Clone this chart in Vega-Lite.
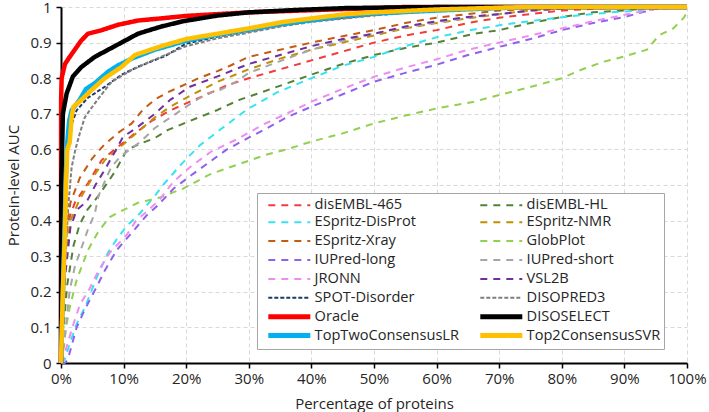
{
"$schema": "https://vega.github.io/schema/vega-lite/v6.json",
"width": 626, "height": 356,
"autosize": {"type": "none"},
"padding": {"left": 61, "top": 7, "right": 22, "bottom": 49},
"config": {
  "view": {"stroke": null},
  "font": "Open Sans",
  "axis": {"domainColor": "#000000", "domainWidth": 2, "tickColor": "#000000", "tickWidth": 1.5, "gridColor": "#d9d9d9", "gridDash": [4, 3], "gridWidth": 1, "labelColor": "#262626", "labelFontSize": 15, "titleColor": "#262626", "titleFontSize": 15, "titleFontWeight": "normal"},
  "legend": {"orient": "none", "legendX": 196, "legendY": 186, "columns": 2, "gridAlign": "all", "symbolType": "M-3,0H3", "symbolSize": 196, "symbolOffset": 22, "labelFontSize": 14.6, "labelColor": "#262626", "labelOffset": 18, "labelLimit": 300, "strokeColor": "#a6a6a6", "fillColor": "#ffffff", "padding": 3, "rowPadding": -2.1, "columnPadding": 11}
},
"data": {"values": [
{"s":"disEMBL-465","x":0,"y":0},{"s":"disEMBL-465","x":0.3,"y":0.15},{"s":"disEMBL-465","x":0.64,"y":0.34},{"s":"disEMBL-465","x":1.2,"y":0.4},{"s":"disEMBL-465","x":2.2,"y":0.45},{"s":"disEMBL-465","x":4.3,"y":0.505},{"s":"disEMBL-465","x":6.5,"y":0.57},{"s":"disEMBL-465","x":9.1,"y":0.607},{"s":"disEMBL-465","x":11.8,"y":0.645},{"s":"disEMBL-465","x":14.5,"y":0.68},{"s":"disEMBL-465","x":17.5,"y":0.71},{"s":"disEMBL-465","x":20.6,"y":0.734},{"s":"disEMBL-465","x":22.5,"y":0.748},{"s":"disEMBL-465","x":26.5,"y":0.78},{"s":"disEMBL-465","x":30,"y":0.8},{"s":"disEMBL-465","x":35,"y":0.825},{"s":"disEMBL-465","x":40,"y":0.85},{"s":"disEMBL-465","x":45,"y":0.875},{"s":"disEMBL-465","x":50,"y":0.9},{"s":"disEMBL-465","x":55,"y":0.92},{"s":"disEMBL-465","x":60,"y":0.935},{"s":"disEMBL-465","x":65,"y":0.955},{"s":"disEMBL-465","x":70,"y":0.97},{"s":"disEMBL-465","x":75,"y":0.98},{"s":"disEMBL-465","x":80,"y":0.99},{"s":"disEMBL-465","x":85,"y":0.995},{"s":"disEMBL-465","x":90,"y":1},{"s":"disEMBL-465","x":100,"y":1},
{"s":"disEMBL-HL","x":0,"y":0},{"s":"disEMBL-HL","x":0.5,"y":0.12},{"s":"disEMBL-HL","x":1,"y":0.22},{"s":"disEMBL-HL","x":2,"y":0.33},{"s":"disEMBL-HL","x":3,"y":0.39},{"s":"disEMBL-HL","x":4.2,"y":0.43},{"s":"disEMBL-HL","x":6,"y":0.47},{"s":"disEMBL-HL","x":8.6,"y":0.537},{"s":"disEMBL-HL","x":10.5,"y":0.598},{"s":"disEMBL-HL","x":12.5,"y":0.615},{"s":"disEMBL-HL","x":15,"y":0.632},{"s":"disEMBL-HL","x":17,"y":0.654},{"s":"disEMBL-HL","x":20.6,"y":0.68},{"s":"disEMBL-HL","x":24.9,"y":0.71},{"s":"disEMBL-HL","x":28.6,"y":0.74},{"s":"disEMBL-HL","x":32.3,"y":0.762},{"s":"disEMBL-HL","x":40,"y":0.81},{"s":"disEMBL-HL","x":45,"y":0.84},{"s":"disEMBL-HL","x":50,"y":0.865},{"s":"disEMBL-HL","x":55,"y":0.885},{"s":"disEMBL-HL","x":60,"y":0.9},{"s":"disEMBL-HL","x":66,"y":0.925},{"s":"disEMBL-HL","x":70,"y":0.935},{"s":"disEMBL-HL","x":75,"y":0.955},{"s":"disEMBL-HL","x":80,"y":0.972},{"s":"disEMBL-HL","x":85,"y":0.985},{"s":"disEMBL-HL","x":90,"y":0.99},{"s":"disEMBL-HL","x":95,"y":1},{"s":"disEMBL-HL","x":100,"y":1},
{"s":"ESpritz-DisProt","x":0,"y":0},{"s":"ESpritz-DisProt","x":0.6,"y":0.01},{"s":"ESpritz-DisProt","x":1.5,"y":0.06},{"s":"ESpritz-DisProt","x":2.5,"y":0.11},{"s":"ESpritz-DisProt","x":3.8,"y":0.155},{"s":"ESpritz-DisProt","x":5.7,"y":0.24},{"s":"ESpritz-DisProt","x":7.5,"y":0.31},{"s":"ESpritz-DisProt","x":9,"y":0.35},{"s":"ESpritz-DisProt","x":10.5,"y":0.385},{"s":"ESpritz-DisProt","x":12.6,"y":0.42},{"s":"ESpritz-DisProt","x":15,"y":0.47},{"s":"ESpritz-DisProt","x":16.3,"y":0.5},{"s":"ESpritz-DisProt","x":19.3,"y":0.56},{"s":"ESpritz-DisProt","x":22.2,"y":0.612},{"s":"ESpritz-DisProt","x":25.4,"y":0.655},{"s":"ESpritz-DisProt","x":29.7,"y":0.712},{"s":"ESpritz-DisProt","x":34.5,"y":0.76},{"s":"ESpritz-DisProt","x":40,"y":0.8},{"s":"ESpritz-DisProt","x":45,"y":0.835},{"s":"ESpritz-DisProt","x":50,"y":0.86},{"s":"ESpritz-DisProt","x":55,"y":0.89},{"s":"ESpritz-DisProt","x":60,"y":0.915},{"s":"ESpritz-DisProt","x":66,"y":0.937},{"s":"ESpritz-DisProt","x":70.5,"y":0.95},{"s":"ESpritz-DisProt","x":77,"y":0.965},{"s":"ESpritz-DisProt","x":83,"y":0.977},{"s":"ESpritz-DisProt","x":88,"y":0.985},{"s":"ESpritz-DisProt","x":92,"y":0.99},{"s":"ESpritz-DisProt","x":96,"y":1},{"s":"ESpritz-DisProt","x":100,"y":1},
{"s":"ESpritz-NMR","x":0,"y":0},{"s":"ESpritz-NMR","x":0.3,"y":0.15},{"s":"ESpritz-NMR","x":0.7,"y":0.3},{"s":"ESpritz-NMR","x":1.5,"y":0.4},{"s":"ESpritz-NMR","x":3,"y":0.46},{"s":"ESpritz-NMR","x":5,"y":0.52},{"s":"ESpritz-NMR","x":7,"y":0.57},{"s":"ESpritz-NMR","x":9,"y":0.6},{"s":"ESpritz-NMR","x":11,"y":0.63},{"s":"ESpritz-NMR","x":13,"y":0.66},{"s":"ESpritz-NMR","x":15,"y":0.69},{"s":"ESpritz-NMR","x":17.5,"y":0.72},{"s":"ESpritz-NMR","x":20,"y":0.745},{"s":"ESpritz-NMR","x":25,"y":0.79},{"s":"ESpritz-NMR","x":30,"y":0.825},{"s":"ESpritz-NMR","x":35,"y":0.855},{"s":"ESpritz-NMR","x":40,"y":0.88},{"s":"ESpritz-NMR","x":45,"y":0.9},{"s":"ESpritz-NMR","x":50,"y":0.92},{"s":"ESpritz-NMR","x":55,"y":0.94},{"s":"ESpritz-NMR","x":60,"y":0.955},{"s":"ESpritz-NMR","x":65,"y":0.968},{"s":"ESpritz-NMR","x":70,"y":0.98},{"s":"ESpritz-NMR","x":75,"y":0.99},{"s":"ESpritz-NMR","x":80,"y":0.997},{"s":"ESpritz-NMR","x":85,"y":1},{"s":"ESpritz-NMR","x":100,"y":1},
{"s":"ESpritz-Xray","x":0,"y":0},{"s":"ESpritz-Xray","x":0.3,"y":0.2},{"s":"ESpritz-Xray","x":0.7,"y":0.35},{"s":"ESpritz-Xray","x":1.5,"y":0.45},{"s":"ESpritz-Xray","x":3,"y":0.52},{"s":"ESpritz-Xray","x":5,"y":0.575},{"s":"ESpritz-Xray","x":7,"y":0.615},{"s":"ESpritz-Xray","x":9.4,"y":0.65},{"s":"ESpritz-Xray","x":11.3,"y":0.673},{"s":"ESpritz-Xray","x":13,"y":0.71},{"s":"ESpritz-Xray","x":15,"y":0.74},{"s":"ESpritz-Xray","x":17,"y":0.76},{"s":"ESpritz-Xray","x":19,"y":0.776},{"s":"ESpritz-Xray","x":22,"y":0.8},{"s":"ESpritz-Xray","x":25,"y":0.82},{"s":"ESpritz-Xray","x":27,"y":0.835},{"s":"ESpritz-Xray","x":30,"y":0.86},{"s":"ESpritz-Xray","x":35,"y":0.88},{"s":"ESpritz-Xray","x":40,"y":0.9},{"s":"ESpritz-Xray","x":45,"y":0.918},{"s":"ESpritz-Xray","x":50,"y":0.935},{"s":"ESpritz-Xray","x":55,"y":0.955},{"s":"ESpritz-Xray","x":60,"y":0.97},{"s":"ESpritz-Xray","x":65,"y":0.98},{"s":"ESpritz-Xray","x":70,"y":0.99},{"s":"ESpritz-Xray","x":75,"y":0.995},{"s":"ESpritz-Xray","x":80,"y":1},{"s":"ESpritz-Xray","x":100,"y":1},
{"s":"GlobPlot","x":0,"y":0},{"s":"GlobPlot","x":0.4,"y":0.05},{"s":"GlobPlot","x":0.8,"y":0.1},{"s":"GlobPlot","x":1.4,"y":0.157},{"s":"GlobPlot","x":2.5,"y":0.233},{"s":"GlobPlot","x":4.3,"y":0.317},{"s":"GlobPlot","x":6,"y":0.37},{"s":"GlobPlot","x":7.8,"y":0.41},{"s":"GlobPlot","x":10,"y":0.43},{"s":"GlobPlot","x":12.3,"y":0.45},{"s":"GlobPlot","x":15.8,"y":0.465},{"s":"GlobPlot","x":19.5,"y":0.49},{"s":"GlobPlot","x":23.8,"y":0.53},{"s":"GlobPlot","x":28,"y":0.556},{"s":"GlobPlot","x":32.6,"y":0.584},{"s":"GlobPlot","x":36,"y":0.6},{"s":"GlobPlot","x":40,"y":0.622},{"s":"GlobPlot","x":45,"y":0.645},{"s":"GlobPlot","x":50,"y":0.673},{"s":"GlobPlot","x":55,"y":0.695},{"s":"GlobPlot","x":60,"y":0.715},{"s":"GlobPlot","x":65.8,"y":0.733},{"s":"GlobPlot","x":70,"y":0.753},{"s":"GlobPlot","x":76,"y":0.78},{"s":"GlobPlot","x":80,"y":0.8},{"s":"GlobPlot","x":83,"y":0.823},{"s":"GlobPlot","x":86.6,"y":0.846},{"s":"GlobPlot","x":89.8,"y":0.86},{"s":"GlobPlot","x":93.6,"y":0.88},{"s":"GlobPlot","x":95.5,"y":0.92},{"s":"GlobPlot","x":97.8,"y":0.94},{"s":"GlobPlot","x":99.5,"y":0.97},{"s":"GlobPlot","x":100,"y":0.985},
{"s":"IUPred-long","x":0,"y":0},{"s":"IUPred-long","x":0.6,"y":0},{"s":"IUPred-long","x":1.1,"y":0.01},{"s":"IUPred-long","x":2.5,"y":0.1},{"s":"IUPred-long","x":3.8,"y":0.15},{"s":"IUPred-long","x":5.7,"y":0.214},{"s":"IUPred-long","x":7,"y":0.26},{"s":"IUPred-long","x":8.9,"y":0.317},{"s":"IUPred-long","x":11.5,"y":0.37},{"s":"IUPred-long","x":13.7,"y":0.415},{"s":"IUPred-long","x":15.3,"y":0.44},{"s":"IUPred-long","x":18,"y":0.49},{"s":"IUPred-long","x":21,"y":0.53},{"s":"IUPred-long","x":26.5,"y":0.6},{"s":"IUPred-long","x":30.2,"y":0.635},{"s":"IUPred-long","x":33,"y":0.66},{"s":"IUPred-long","x":36,"y":0.69},{"s":"IUPred-long","x":40,"y":0.72},{"s":"IUPred-long","x":45,"y":0.755},{"s":"IUPred-long","x":50,"y":0.79},{"s":"IUPred-long","x":55,"y":0.815},{"s":"IUPred-long","x":60,"y":0.838},{"s":"IUPred-long","x":65,"y":0.865},{"s":"IUPred-long","x":70,"y":0.888},{"s":"IUPred-long","x":75,"y":0.91},{"s":"IUPred-long","x":80,"y":0.935},{"s":"IUPred-long","x":85,"y":0.955},{"s":"IUPred-long","x":90,"y":0.972},{"s":"IUPred-long","x":95,"y":0.995},{"s":"IUPred-long","x":100,"y":1},
{"s":"IUPred-short","x":0,"y":0},{"s":"IUPred-short","x":0.5,"y":0.05},{"s":"IUPred-short","x":1,"y":0.14},{"s":"IUPred-short","x":1.4,"y":0.205},{"s":"IUPred-short","x":2.2,"y":0.27},{"s":"IUPred-short","x":3.2,"y":0.32},{"s":"IUPred-short","x":4.3,"y":0.375},{"s":"IUPred-short","x":5.4,"y":0.42},{"s":"IUPred-short","x":6,"y":0.47},{"s":"IUPred-short","x":7,"y":0.51},{"s":"IUPred-short","x":8,"y":0.55},{"s":"IUPred-short","x":9.5,"y":0.58},{"s":"IUPred-short","x":11,"y":0.6},{"s":"IUPred-short","x":12.6,"y":0.62},{"s":"IUPred-short","x":15,"y":0.66},{"s":"IUPred-short","x":17.5,"y":0.69},{"s":"IUPred-short","x":20,"y":0.72},{"s":"IUPred-short","x":23.3,"y":0.757},{"s":"IUPred-short","x":25.4,"y":0.767},{"s":"IUPred-short","x":28,"y":0.79},{"s":"IUPred-short","x":30,"y":0.815},{"s":"IUPred-short","x":35,"y":0.848},{"s":"IUPred-short","x":40,"y":0.88},{"s":"IUPred-short","x":45,"y":0.905},{"s":"IUPred-short","x":50,"y":0.925},{"s":"IUPred-short","x":55,"y":0.942},{"s":"IUPred-short","x":60,"y":0.957},{"s":"IUPred-short","x":65,"y":0.97},{"s":"IUPred-short","x":70,"y":0.98},{"s":"IUPred-short","x":75,"y":0.99},{"s":"IUPred-short","x":80,"y":0.997},{"s":"IUPred-short","x":85,"y":1},{"s":"IUPred-short","x":100,"y":1},
{"s":"JRONN","x":0,"y":0},{"s":"JRONN","x":0.5,"y":0.02},{"s":"JRONN","x":0.9,"y":0.046},{"s":"JRONN","x":2,"y":0.11},{"s":"JRONN","x":3,"y":0.163},{"s":"JRONN","x":4.6,"y":0.21},{"s":"JRONN","x":6,"y":0.26},{"s":"JRONN","x":7.8,"y":0.31},{"s":"JRONN","x":10.5,"y":0.36},{"s":"JRONN","x":12,"y":0.4},{"s":"JRONN","x":14,"y":0.43},{"s":"JRONN","x":15.8,"y":0.46},{"s":"JRONN","x":18,"y":0.51},{"s":"JRONN","x":20.6,"y":0.55},{"s":"JRONN","x":24,"y":0.594},{"s":"JRONN","x":28.3,"y":0.63},{"s":"JRONN","x":32.3,"y":0.67},{"s":"JRONN","x":36,"y":0.7},{"s":"JRONN","x":40,"y":0.734},{"s":"JRONN","x":45,"y":0.77},{"s":"JRONN","x":50,"y":0.804},{"s":"JRONN","x":55,"y":0.83},{"s":"JRONN","x":60,"y":0.853},{"s":"JRONN","x":65,"y":0.88},{"s":"JRONN","x":70,"y":0.9},{"s":"JRONN","x":75,"y":0.92},{"s":"JRONN","x":80,"y":0.94},{"s":"JRONN","x":85,"y":0.96},{"s":"JRONN","x":90,"y":0.978},{"s":"JRONN","x":95,"y":0.995},{"s":"JRONN","x":100,"y":1},
{"s":"VSL2B","x":0,"y":0},{"s":"VSL2B","x":0.3,"y":0.1},{"s":"VSL2B","x":0.7,"y":0.25},{"s":"VSL2B","x":1.5,"y":0.38},{"s":"VSL2B","x":2.5,"y":0.43},{"s":"VSL2B","x":4.1,"y":0.453},{"s":"VSL2B","x":5.5,"y":0.5},{"s":"VSL2B","x":6.8,"y":0.537},{"s":"VSL2B","x":8.5,"y":0.59},{"s":"VSL2B","x":9.9,"y":0.635},{"s":"VSL2B","x":12,"y":0.66},{"s":"VSL2B","x":15,"y":0.7},{"s":"VSL2B","x":17.5,"y":0.74},{"s":"VSL2B","x":20.6,"y":0.776},{"s":"VSL2B","x":25,"y":0.805},{"s":"VSL2B","x":30,"y":0.84},{"s":"VSL2B","x":35,"y":0.865},{"s":"VSL2B","x":40,"y":0.89},{"s":"VSL2B","x":45,"y":0.91},{"s":"VSL2B","x":50,"y":0.925},{"s":"VSL2B","x":55,"y":0.945},{"s":"VSL2B","x":60,"y":0.96},{"s":"VSL2B","x":65,"y":0.972},{"s":"VSL2B","x":70,"y":0.98},{"s":"VSL2B","x":75,"y":0.99},{"s":"VSL2B","x":80,"y":0.995},{"s":"VSL2B","x":85,"y":1},{"s":"VSL2B","x":100,"y":1},
{"s":"SPOT-Disorder","x":0,"y":0},{"s":"SPOT-Disorder","x":0.3,"y":0.2},{"s":"SPOT-Disorder","x":0.6,"y":0.4},{"s":"SPOT-Disorder","x":1,"y":0.58},{"s":"SPOT-Disorder","x":1.5,"y":0.66},{"s":"SPOT-Disorder","x":2.5,"y":0.71},{"s":"SPOT-Disorder","x":4.3,"y":0.745},{"s":"SPOT-Disorder","x":7,"y":0.776},{"s":"SPOT-Disorder","x":9.7,"y":0.81},{"s":"SPOT-Disorder","x":12.3,"y":0.832},{"s":"SPOT-Disorder","x":15,"y":0.851},{"s":"SPOT-Disorder","x":16.6,"y":0.862},{"s":"SPOT-Disorder","x":20,"y":0.897},{"s":"SPOT-Disorder","x":25,"y":0.917},{"s":"SPOT-Disorder","x":30,"y":0.932},{"s":"SPOT-Disorder","x":35,"y":0.948},{"s":"SPOT-Disorder","x":40,"y":0.96},{"s":"SPOT-Disorder","x":50,"y":0.978},{"s":"SPOT-Disorder","x":60,"y":0.99},{"s":"SPOT-Disorder","x":70,"y":0.997},{"s":"SPOT-Disorder","x":75,"y":1},{"s":"SPOT-Disorder","x":100,"y":1},
{"s":"DISOPRED3","x":0,"y":0},{"s":"DISOPRED3","x":0.3,"y":0.1},{"s":"DISOPRED3","x":0.7,"y":0.3},{"s":"DISOPRED3","x":1.2,"y":0.45},{"s":"DISOPRED3","x":1.7,"y":0.55},{"s":"DISOPRED3","x":2.3,"y":0.6},{"s":"DISOPRED3","x":3,"y":0.645},{"s":"DISOPRED3","x":3.8,"y":0.69},{"s":"DISOPRED3","x":4.6,"y":0.71},{"s":"DISOPRED3","x":6.2,"y":0.748},{"s":"DISOPRED3","x":8.1,"y":0.79},{"s":"DISOPRED3","x":11.3,"y":0.823},{"s":"DISOPRED3","x":14,"y":0.845},{"s":"DISOPRED3","x":16,"y":0.86},{"s":"DISOPRED3","x":20,"y":0.89},{"s":"DISOPRED3","x":25,"y":0.912},{"s":"DISOPRED3","x":30,"y":0.928},{"s":"DISOPRED3","x":35,"y":0.945},{"s":"DISOPRED3","x":40,"y":0.958},{"s":"DISOPRED3","x":50,"y":0.976},{"s":"DISOPRED3","x":60,"y":0.99},{"s":"DISOPRED3","x":70,"y":0.997},{"s":"DISOPRED3","x":75,"y":1},{"s":"DISOPRED3","x":100,"y":1},
{"s":"Oracle","x":0,"y":0},{"s":"Oracle","x":0.02,"y":0.74},{"s":"Oracle","x":0.1,"y":0.8},{"s":"Oracle","x":0.64,"y":0.84},{"s":"Oracle","x":1.2,"y":0.855},{"s":"Oracle","x":2.2,"y":0.88},{"s":"Oracle","x":3.2,"y":0.905},{"s":"Oracle","x":4.3,"y":0.925},{"s":"Oracle","x":6.5,"y":0.935},{"s":"Oracle","x":9.1,"y":0.95},{"s":"Oracle","x":12.3,"y":0.962},{"s":"Oracle","x":16,"y":0.968},{"s":"Oracle","x":20,"y":0.975},{"s":"Oracle","x":25,"y":0.98},{"s":"Oracle","x":30,"y":0.985},{"s":"Oracle","x":40,"y":0.991},{"s":"Oracle","x":50,"y":0.997},{"s":"Oracle","x":55,"y":1},{"s":"Oracle","x":100,"y":1},
{"s":"DISOSELECT","x":0,"y":0},{"s":"DISOSELECT","x":0.05,"y":0.5},{"s":"DISOSELECT","x":0.3,"y":0.7},{"s":"DISOSELECT","x":0.9,"y":0.757},{"s":"DISOSELECT","x":1.9,"y":0.805},{"s":"DISOSELECT","x":3.3,"y":0.832},{"s":"DISOSELECT","x":5.4,"y":0.86},{"s":"DISOSELECT","x":8.6,"y":0.89},{"s":"DISOSELECT","x":12.3,"y":0.925},{"s":"DISOSELECT","x":16,"y":0.945},{"s":"DISOSELECT","x":19.5,"y":0.96},{"s":"DISOSELECT","x":25,"y":0.976},{"s":"DISOSELECT","x":30,"y":0.985},{"s":"DISOSELECT","x":38,"y":0.992},{"s":"DISOSELECT","x":45.6,"y":0.997},{"s":"DISOSELECT","x":55,"y":0.999},{"s":"DISOSELECT","x":62,"y":1},{"s":"DISOSELECT","x":100,"y":1},
{"s":"TopTwoConsensusLR","x":0,"y":0},{"s":"TopTwoConsensusLR","x":0.3,"y":0.2},{"s":"TopTwoConsensusLR","x":0.6,"y":0.4},{"s":"TopTwoConsensusLR","x":0.9,"y":0.6},{"s":"TopTwoConsensusLR","x":1.3,"y":0.68},{"s":"TopTwoConsensusLR","x":1.7,"y":0.71},{"s":"TopTwoConsensusLR","x":3,"y":0.74},{"s":"TopTwoConsensusLR","x":4,"y":0.77},{"s":"TopTwoConsensusLR","x":5.4,"y":0.786},{"s":"TopTwoConsensusLR","x":7.5,"y":0.818},{"s":"TopTwoConsensusLR","x":9,"y":0.835},{"s":"TopTwoConsensusLR","x":11.3,"y":0.855},{"s":"TopTwoConsensusLR","x":15,"y":0.88},{"s":"TopTwoConsensusLR","x":20,"y":0.905},{"s":"TopTwoConsensusLR","x":25,"y":0.922},{"s":"TopTwoConsensusLR","x":30,"y":0.937},{"s":"TopTwoConsensusLR","x":35,"y":0.952},{"s":"TopTwoConsensusLR","x":40,"y":0.963},{"s":"TopTwoConsensusLR","x":45,"y":0.975},{"s":"TopTwoConsensusLR","x":50,"y":0.982},{"s":"TopTwoConsensusLR","x":60,"y":0.99},{"s":"TopTwoConsensusLR","x":70,"y":0.997},{"s":"TopTwoConsensusLR","x":75,"y":1},{"s":"TopTwoConsensusLR","x":100,"y":1},
{"s":"Top2ConsensusSVR","x":0,"y":0},{"s":"Top2ConsensusSVR","x":0.3,"y":0.2},{"s":"Top2ConsensusSVR","x":0.6,"y":0.35},{"s":"Top2ConsensusSVR","x":0.8,"y":0.5},{"s":"Top2ConsensusSVR","x":1,"y":0.6},{"s":"Top2ConsensusSVR","x":1.4,"y":0.62},{"s":"Top2ConsensusSVR","x":1.7,"y":0.69},{"s":"Top2ConsensusSVR","x":2,"y":0.72},{"s":"Top2ConsensusSVR","x":3.3,"y":0.74},{"s":"Top2ConsensusSVR","x":4.9,"y":0.767},{"s":"Top2ConsensusSVR","x":7,"y":0.8},{"s":"Top2ConsensusSVR","x":9.7,"y":0.832},{"s":"Top2ConsensusSVR","x":11.8,"y":0.865},{"s":"Top2ConsensusSVR","x":15,"y":0.884},{"s":"Top2ConsensusSVR","x":17,"y":0.895},{"s":"Top2ConsensusSVR","x":20,"y":0.91},{"s":"Top2ConsensusSVR","x":25,"y":0.925},{"s":"Top2ConsensusSVR","x":30,"y":0.94},{"s":"Top2ConsensusSVR","x":35.5,"y":0.958},{"s":"Top2ConsensusSVR","x":40,"y":0.968},{"s":"Top2ConsensusSVR","x":45.6,"y":0.98},{"s":"Top2ConsensusSVR","x":50,"y":0.985},{"s":"Top2ConsensusSVR","x":60,"y":0.993},{"s":"Top2ConsensusSVR","x":70,"y":0.998},{"s":"Top2ConsensusSVR","x":75,"y":1},{"s":"Top2ConsensusSVR","x":100,"y":1}
]},
"mark": {"type": "line", "strokeCap": "butt"},
"encoding": {
  "x": {"field": "x", "type": "quantitative", "scale": {"domain": [0, 100], "nice": false, "zero": false},
        "axis": {"title": "Percentage of proteins", "values": [0,10,20,30,40,50,60,70,80,90,100], "labelExpr": "datum.value + '%'", "tickSize": 5, "labelPadding": 3, "titleY": 40, "titleBaseline": "middle", "labelFlush": false}},
  "y": {"field": "y", "type": "quantitative", "scale": {"domain": [0, 1], "nice": false},
        "axis": {"title": "Protein-level AUC", "values": [0,0.1,0.2,0.3,0.4,0.5,0.6,0.7,0.8,0.9,1], "format": ".1~f", "tickSize": 5, "labelPadding": 5, "titlePadding": 8, "labelFlush": false}},
  "color": {"field": "s", "type": "nominal",
    "legend": {"title": null, "encode": {"symbols": {"update": {"strokeWidth": {"signal": "indexof(['Oracle','DISOSELECT','TopTwoConsensusLR','Top2ConsensusSVR'], datum.value) >= 0 ? 5 : 2"}}}}},
    "scale": {"domain": ["disEMBL-465","ESpritz-DisProt","ESpritz-Xray","IUPred-long","JRONN","SPOT-Disorder","Oracle","TopTwoConsensusLR","disEMBL-HL","ESpritz-NMR","GlobPlot","IUPred-short","VSL2B","DISOPRED3","DISOSELECT","Top2ConsensusSVR"],
              "range": ["#f23c3c","#38e2f0","#c55a11","#8f62ee","#f08cf0","#1f3864","#ff0000","#00b0f0","#548235","#bf9000","#92d050","#a6a6a6","#7030a0","#7f7f7f","#000000","#ffc000"]}},
  "strokeDash": {"field": "s", "type": "nominal", "legend": {"title": null},
    "scale": {"domain": ["disEMBL-465","ESpritz-DisProt","ESpritz-Xray","IUPred-long","JRONN","SPOT-Disorder","Oracle","TopTwoConsensusLR","disEMBL-HL","ESpritz-NMR","GlobPlot","IUPred-short","VSL2B","DISOPRED3","DISOSELECT","Top2ConsensusSVR"],
              "range": [[7,6],[7,6],[7,6],[7,6],[7,6],[4,2],[1,0],[1,0],[7,6],[7,6],[7,6],[7,6],[7,6],[4,2],[1,0],[1,0]]}},
  "strokeWidth": {"condition": {"test": "indexof(['Oracle','DISOSELECT','TopTwoConsensusLR','Top2ConsensusSVR'], datum.s) >= 0", "value": 4.5}, "value": 2}
}
}
